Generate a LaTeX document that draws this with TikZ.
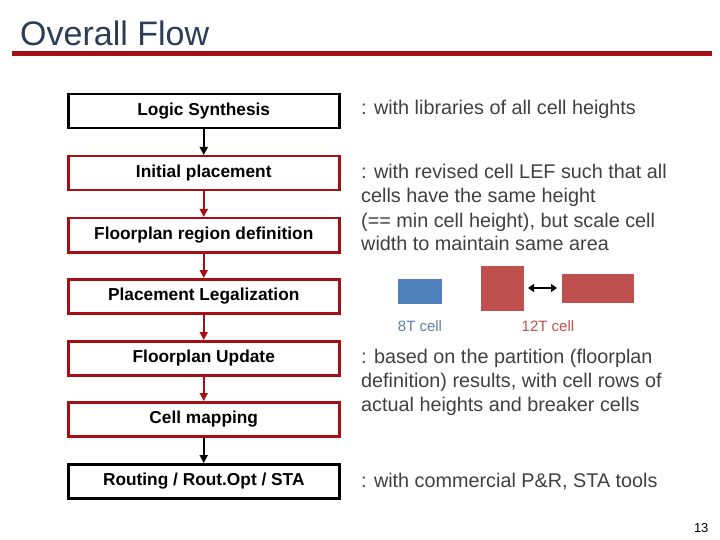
\documentclass[tikz,border=0pt]{standalone}
\usepackage{fontspec}
\setmainfont{Liberation Sans}
\usetikzlibrary{arrows.meta}
\definecolor{dred}{HTML}{A50F15}
\definecolor{titleblue}{HTML}{2B3E55}
\definecolor{cblue}{HTML}{4F81BD}
\definecolor{cred}{HTML}{C0504D}
\definecolor{txt}{HTML}{404040}
\begin{document}
\begin{tikzpicture}[x=1pt,y=-1pt,
  flowbox/.style={draw=dred,line width=2.5pt,minimum width=271pt,minimum height=34pt,inner sep=0pt,font=\bfseries\fontsize{17.3}{19}\selectfont,anchor=north west},
  blackbox/.style={flowbox,draw=black},
  flowarrow/.style={-{Triangle[length=8pt,width=8pt]},line width=1.8pt,draw=dred},
  blackarrow/.style={flowarrow,draw=black},
  note/.style={anchor=base west,font=\fontsize{19.8}{24}\selectfont,text=txt,inner sep=0pt}]
\useasboundingbox (0,0) rectangle (720,540);
\node[anchor=base west,text=titleblue,font=\fontsize{34}{36}\selectfont,inner sep=0pt] (title) at (20,46) {Overall Flow};
\fill[dred] (12,51) rectangle (712,56);
\node[blackbox] (ls) at (67,93) {Logic Synthesis};
\node[flowbox] (ip) at (67,155) {Initial placement};
\node[flowbox] (fr) at (67,217) {Floorplan region definition};
\node[flowbox] (pl) at (67,278) {Placement Legalization};
\node[flowbox] (fu) at (67,340) {Floorplan Update};
\node[flowbox] (cm) at (67,401) {Cell mapping};
\node[blackbox] (rt) at (67,463) {Routing / Rout.Opt / STA};
\draw[blackarrow] (ls.south) -- (ip.north);
\draw[flowarrow] (ip.south) -- (fr.north);
\draw[flowarrow] (fr.south) -- (pl.north);
\draw[flowarrow] (pl.south) -- (fu.north);
\draw[flowarrow] (fu.south) -- (cm.north);
\draw[blackarrow] (cm.south) -- (rt.north);
\node[note] (n1) at (361,115) {: with libraries of all cell heights};
\node[note] (n2a) at (361,179) {: with revised cell LEF such that all};
\node[note] (n2b) at (361,203) {cells have the same height};
\node[note] (n2c) at (361,227) {(== min cell height), but scale cell};
\node[note] (n2d) at (361,251) {width to maintain same area};
\node[note] (n3a) at (361,363) {: based on the partition (floorplan};
\node[note] (n3b) at (361,387) {definition) results, with cell rows of};
\node[note] (n3c) at (361,411) {actual heights and breaker cells};
\node[note] (n4) at (361,487) {: with commercial P\&R, STA tools};
\fill[cblue] (398,279) rectangle (442,304);
\fill[cred] (481,266) rectangle (524,311);
\fill[cred] (562,274) rectangle (634,303);
\coordinate (aL) at (528,288);
\coordinate (aR) at (557,288);
\draw[{Triangle[length=6pt,width=8pt]}-{Triangle[length=6pt,width=8pt]},line width=2pt] (aL) -- (aR);
\node[text=cblue!70!gray,font=\fontsize{15}{17}\selectfont,anchor=base] (l8) at (420,331) {8T cell};
\node[text=cred,font=\fontsize{15}{17}\selectfont,anchor=base] (l12) at (548,331) {12T cell};
\node[font=\fontsize{13}{15}\selectfont,anchor=base east] (pg) at (712,532) {13};
\end{tikzpicture}
\end{document}
